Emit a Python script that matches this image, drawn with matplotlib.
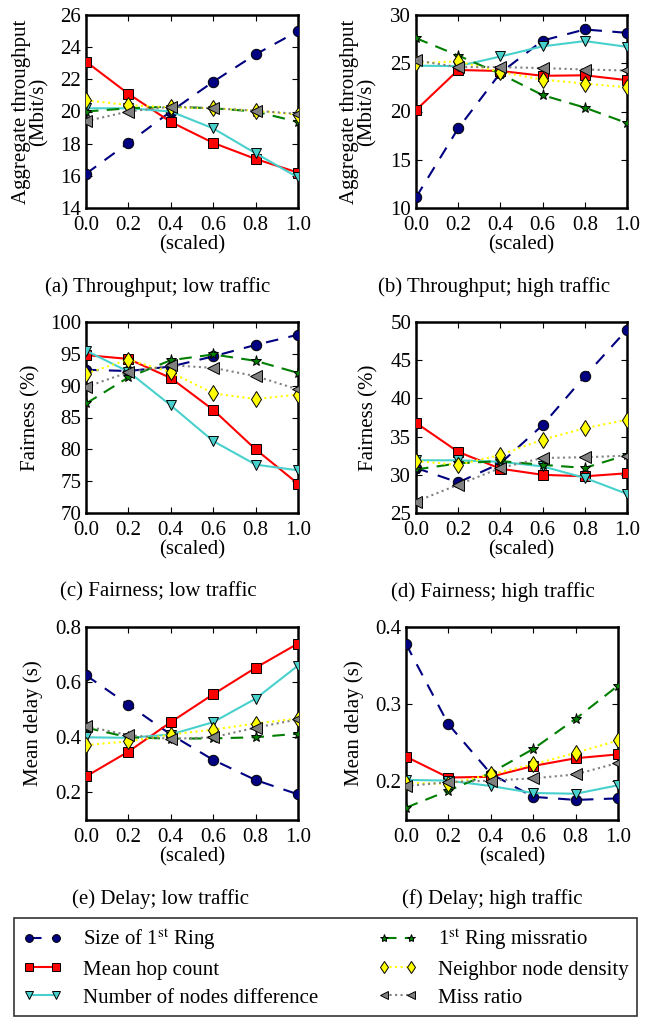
import numpy as np
import matplotlib
matplotlib.use("Agg")
import matplotlib.pyplot as plt

# x axis (scaled weight)
x = [0.0, 0.2, 0.4, 0.6, 0.8, 1.0]

labels = [r'Size of 1$^{\mathrm{st}}$ Ring', 'Mean hop count', 'Number of nodes difference',
          r'1$^{\mathrm{st}}$ Ring missratio', 'Neighbor node density', 'Miss ratio']

# throughput, low traffic
thr_low_ring = [16.13, 18.05, 20.0, 21.85, 23.55, 25.0]
thr_low_hop = [23.1, 21.1, 19.35, 18.05, 17.05, 16.2]
thr_low_nodes = [20.2, 20.2, 20.0, 18.95, 17.4, 15.9]
thr_low_missring = [20.0, 20.2, 20.3, 20.2, 20.0, 19.35]
thr_low_density = [20.7, 20.4, 20.25, 20.2, 20.05, 19.8]
thr_low_miss = [19.4, 20.0, 20.3, 20.2, 20.05, 19.85]

# throughput, high traffic
thr_high_ring = [11.1, 18.25, 24.0, 27.35, 28.5, 28.15]
thr_high_hop = [20.15, 24.3, 24.2, 23.7, 23.75, 23.25]
thr_high_nodes = [24.75, 24.7, 25.7, 26.75, 27.3, 26.7]
thr_high_missring = [27.6, 25.8, 23.9, 21.7, 20.4, 18.8]
thr_high_density = [25.0, 25.2, 24.1, 23.3, 22.9, 22.5]
thr_high_miss = [25.3, 24.6, 24.6, 24.5, 24.35, 24.25]

# fairness, low traffic
fair_low_ring = [92.5, 92.3, 93.0, 94.6, 96.4, 98.0]
fair_low_hop = [94.8, 94.2, 91.2, 86.2, 80.0, 74.6]
fair_low_nodes = [95.5, 92.2, 86.9, 81.3, 77.6, 76.7]
fair_low_missring = [87.2, 91.3, 94.0, 94.9, 93.9, 92.0]
fair_low_density = [91.9, 94.1, 92.1, 88.8, 87.9, 88.6]
fair_low_miss = [89.8, 92.1, 93.2, 92.8, 91.5, 89.4]

# fairness, high traffic
fair_high_ring = [30.9, 29.0, 31.5, 36.5, 42.9, 49.0]
fair_high_hop = [36.8, 33.0, 30.8, 30.0, 29.8, 30.2]
fair_high_nodes = [31.9, 31.9, 31.7, 31.1, 29.6, 27.5]
fair_high_missring = [30.7, 31.5, 31.8, 31.3, 30.9, 32.6]
fair_high_density = [31.8, 31.3, 32.6, 34.6, 36.1, 37.2]
fair_high_miss = [26.5, 28.7, 30.9, 32.2, 32.3, 32.5]

# delay, low traffic
delay_low_ring = [0.625, 0.518, 0.41, 0.318, 0.245, 0.193]
delay_low_hop = [0.258, 0.348, 0.455, 0.556, 0.652, 0.74]
delay_low_nodes = [0.40, 0.398, 0.41, 0.455, 0.54, 0.66]
delay_low_missring = [0.435, 0.40, 0.395, 0.396, 0.40, 0.413]
delay_low_density = [0.372, 0.385, 0.41, 0.428, 0.45, 0.468]
delay_low_miss = [0.44, 0.408, 0.394, 0.40, 0.435, 0.465]

# delay, high traffic
delay_high_ring = [0.378, 0.274, 0.21, 0.18, 0.176, 0.178]
delay_high_hop = [0.232, 0.205, 0.206, 0.22, 0.23, 0.235]
delay_high_nodes = [0.202, 0.201, 0.194, 0.185, 0.184, 0.195]
delay_high_missring = [0.166, 0.188, 0.211, 0.242, 0.281, 0.324]
delay_high_density = [0.198, 0.197, 0.209, 0.222, 0.237, 0.253]
delay_high_miss = [0.194, 0.199, 0.201, 0.204, 0.209, 0.224]

plt.rc('font', family='serif', serif=['Liberation Serif', 'DejaVu Serif'])
plt.rc('mathtext', fontset='stix')
plt.rc('xtick', direction='in', top=True)
plt.rc('ytick', direction='in', right=True)
plt.rc('xtick.major', size=4, width=0.8)
plt.rc('ytick.major', size=4, width=0.8)

fs = 15
styles = [
    dict(color='#000080', ls=(0, (6, 5)), marker='o', mfc='#000080', ms=7.5),
    dict(color='red', ls='-', marker='s', mfc='red', ms=7.5),
    dict(color='#48d1cc', ls='-', marker='v', mfc='#48d1cc', ms=7.5),
    dict(color='#007f00', ls=(0, (6, 4)), marker='*', mfc='#007f00', ms=8),
    dict(color='yellow', ls=':', marker='d', mfc='yellow', ms=8),
    dict(color='gray', ls=':', marker='<', mfc='gray', ms=8),
]

# series, ylabel, ylim, yticks, caption, axes box (px), caption centre, ylabel x (axes frac)
panels = [
    ([thr_low_ring, thr_low_hop, thr_low_nodes, thr_low_missring, thr_low_density, thr_low_miss],
     'Aggregate throughput\n(Mbit/s)', (14, 26), [14, 16, 18, 20, 22, 24, 26],
     '(a) Throughput; low traffic', [86, 15, 298, 208], 158, -0.175),
    ([thr_high_ring, thr_high_hop, thr_high_nodes, thr_high_missring, thr_high_density, thr_high_miss],
     'Aggregate throughput\n(Mbit/s)', (10, 30), [10, 15, 20, 25, 30],
     '(b) Throughput; high traffic', [416, 15, 627, 208], 494, -0.185),
    ([fair_low_ring, fair_low_hop, fair_low_nodes, fair_low_missring, fair_low_density, fair_low_miss],
     'Fairness (%)', (70, 100), [70, 75, 80, 85, 90, 95, 100],
     '(c) Fairness; low traffic', [86, 322, 298, 513], 158, -0.215),
    ([fair_high_ring, fair_high_hop, fair_high_nodes, fair_high_missring, fair_high_density, fair_high_miss],
     'Fairness (%)', (25, 50), [25, 30, 35, 40, 45, 50],
     '(d) Fairness; high traffic', [416, 322, 627, 513], 493, -0.18),
    ([delay_low_ring, delay_low_hop, delay_low_nodes, delay_low_missring, delay_low_density, delay_low_miss],
     'Mean delay (s)', (0.1, 0.8), [0.2, 0.4, 0.6, 0.8],
     '(e) Delay; low traffic', [86, 627, 298, 820], 160, -0.205),
    ([delay_high_ring, delay_high_hop, delay_high_nodes, delay_high_missring, delay_high_density, delay_high_miss],
     'Mean delay (s)', (0.15, 0.4), [0.2, 0.3, 0.4],
     '(f) Delay; high traffic', [406, 627, 618, 820], 492, -0.2),
]

W, H = 650, 1019
fig = plt.figure(figsize=(W / 100, H / 100), dpi=100)

handles = None
for series, ylab, ylim, yt, cap, (l, t, r, b), cx, lx in panels:
    ax = fig.add_axes([l / W, 1 - b / H, (r - l) / W, (b - t) / H])
    hs = []
    for s, st in zip(series, styles):
        h, = ax.plot(x, s, lw=1.5, mec='black', mew=0.7, zorder=3, **st)
        hs.append(h)
    handles = hs
    ax.set_xlim(0, 1)
    ax.set_ylim(*ylim)
    ax.set_yticks(yt)
    ax.set_xticks(x)
    ax.set_xticklabels(['%.1f' % v for v in x])
    if ylim[1] < 1:
        ax.set_yticklabels(['%.1f' % v for v in yt])
    ax.tick_params(axis='x', labelsize=fs, pad=6)
    ax.tick_params(axis='y', labelsize=fs, pad=3.5)
    for sp in ax.spines.values():
        sp.set_linewidth(1.8)
    ax.set_xlabel('(scaled)', fontsize=fs, labelpad=0)
    ax.set_ylabel(ylab, fontsize=fs, linespacing=0.9)
    ax.yaxis.set_label_coords(lx, 0.5)
    fig.text(cx / W, 1 - (b + 79) / H, cap, fontsize=fs, ha='center', va='center')

leg = fig.legend(handles, labels, loc='lower left', ncol=2,
                 bbox_to_anchor=(14 / W, 1 - 1016 / H, (637 - 14) / W, (1016 - 922) / H),
                 mode='expand', fontsize=fs, frameon=True, fancybox=False,
                 edgecolor='black', markerscale=0.75, numpoints=2,
                 handlelength=1.9, handletextpad=1.0, labelspacing=0.4,
                 borderaxespad=0, borderpad=0.4, columnspacing=1.0)
leg.get_frame().set_linewidth(1.2)

fig.savefig('out.png', dpi=100)
